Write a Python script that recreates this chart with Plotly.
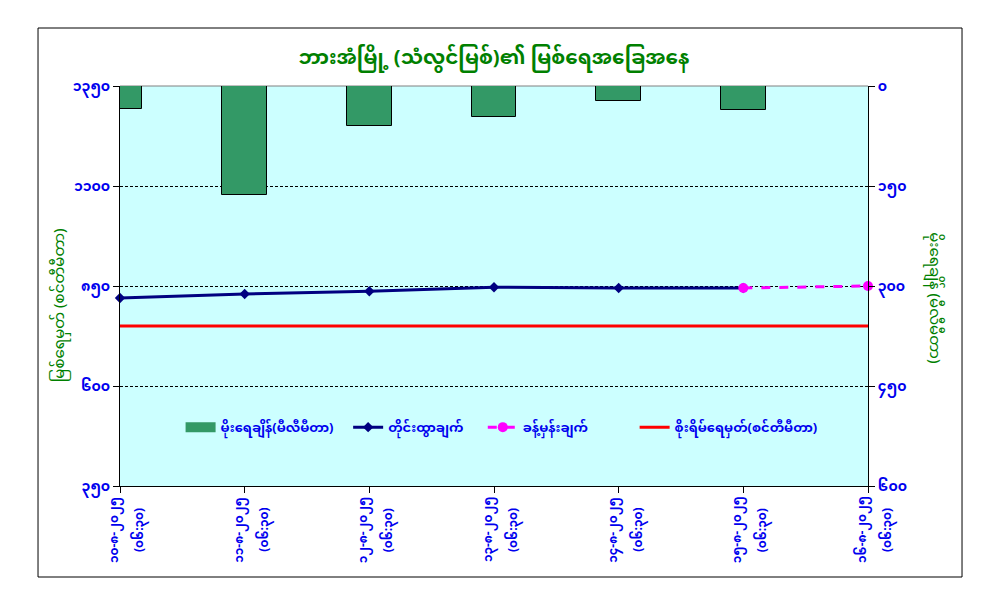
import plotly.graph_objects as go

# categories (date / time of reading)
dates = ["၁၀-၈-၂၀၂၅", "၁၁-၈-၂၀၂၅", "၁၂-၈-၂၀၂၅", "၁၃-၈-၂၀၂၅",
         "၁၄-၈-၂၀၂၅", "၁၅-၈-၂၀၂၅", "၁၆-၈-၂၀၂၅"]
times = ["(၀၆:၃၀)"] * 7

# rainfall (mm), right axis
rainfall = [34, 163, 60, 47, 22, 36, 0]
# measured water level (cm), left axis
water_level = [820, 830, 837, 847, 845, 845, None]
# forecast water level (cm)
forecast = [None, None, None, None, None, 845, 850]
# danger level (cm)
danger_level = [750] * 7

left_ticks = [350, 600, 850, 1100, 1350]
left_labels = ["၃၅၀", "၆၀၀", "၈၅၀", "၁၁၀၀", "၁၃၅၀"]
right_ticks = [0, 150, 300, 450, 600]
right_labels = ["၀", "၁၅၀", "၃၀၀", "၄၅၀", "၆၀၀"]

title_text = "ဘားအံမြို့ (သံလွင်မြစ်)၏ မြစ်ရေအခြေအနေ"
left_title = "မြစ်ရေမှတ် (စင်တီမီတာ)"
right_title = "မိုးရေချိန် (မီလီမီတာ)"
legend_names = ["မိုးရေချိန်(မီလီမီတာ)", "တိုင်းထွာချက်", "ခန့်မှန်းချက်",
                "စိုးရိမ်ရေမှတ်(စင်တီမီတာ)"]

FONT = "Noto Sans Myanmar, Padauk, Myanmar Text, DejaVu Sans, sans-serif"
BLUE = "#0000EE"
GREEN = "#008000"
BAR_GREEN = "#339966"

x = list(range(len(dates)))

fig = go.Figure()
fig.add_trace(go.Bar(
    x=x, y=rainfall, yaxis="y2", width=0.36,
    marker=dict(color=BAR_GREEN, line=dict(color="black", width=1)),
    name=legend_names[0], showlegend=False
))
# legend entry drawn as a wide green block, like the original
fig.add_trace(go.Scatter(
    x=[None], y=[None], mode="lines",
    line=dict(color=BAR_GREEN, width=10),
    name=legend_names[0], legend="legend"
))
fig.add_trace(go.Scatter(
    x=x, y=water_level, mode="lines+markers",
    line=dict(color="#000080", width=3),
    marker=dict(symbol="diamond", size=8, color="#000080"),
    name=legend_names[1], legend="legend2", cliponaxis=False
))
fig.add_trace(go.Scatter(
    x=x, y=danger_level, mode="lines",
    line=dict(color="#FF0000", width=3),
    name=legend_names[3], legend="legend4"
))
fig.add_trace(go.Scatter(
    x=x, y=forecast, mode="lines+markers",
    line=dict(color="#FF00FF", width=3, dash="dash"),
    marker=dict(symbol="circle", size=10, color="#FF00FF"),
    name=legend_names[2], legend="legend3", cliponaxis=False
))

leg = dict(orientation="h", y=0.147, yanchor="middle", xanchor="left",
           bgcolor="rgba(0,0,0,0)",
           font=dict(size=13, color=BLUE, weight="bold"))

annotations = [
    dict(text=left_title, xref="paper", yref="paper", x=-0.08, y=0.4525,
         textangle=-90, showarrow=False, xanchor="center", yanchor="middle",
         font=dict(size=15, color=GREEN)),
    dict(text=right_title, xref="paper", yref="paper", x=1.088, y=0.47,
         textangle=90, showarrow=False, xanchor="center", yanchor="middle",
         font=dict(size=15, color=GREEN)),
]
for i, (d, t) in enumerate(zip(dates, times)):
    annotations.append(dict(text=f"<b>{d}</b>", x=i, xref="x", yref="paper",
                            y=-0.11, textangle=-90, showarrow=False,
                            xanchor="center", yanchor="middle", xshift=-5,
                            font=dict(size=12, color=BLUE)))
    annotations.append(dict(text=f"<b>{t}</b>", x=i, xref="x", yref="paper",
                            y=-0.11, textangle=-90, showarrow=False,
                            xanchor="center", yanchor="middle", xshift=20,
                            font=dict(size=12, color=BLUE)))

fig.update_layout(
    width=1001, height=595,
    margin=dict(l=112, r=141, t=78, b=117),
    paper_bgcolor="white", plot_bgcolor="#CCFFFF",
    font=dict(family=FONT, color=BLUE, size=13),
    title=dict(text=f"<b>{title_text}</b>", x=0.5, xanchor="center",
               y=0.918, yanchor="middle", xref="paper",
               font=dict(size=20, color=GREEN)),
    showlegend=True,
    legend=dict(leg, x=0.081),
    legend2=dict(leg, x=0.305),
    legend3=dict(leg, x=0.485),
    legend4=dict(leg, x=0.688),
    bargap=0,
    xaxis=dict(
        range=[0, 6], tickmode="array", tickvals=x, showticklabels=False,
        ticks="outside", ticklen=6, tickcolor="black",
        showline=True, linecolor="black", linewidth=1,
        showgrid=False, zeroline=False,
    ),
    yaxis=dict(
        range=[350, 1350], tickmode="array", tickvals=left_ticks,
        ticktext=[f"<b>{t}</b>" for t in left_labels],
        ticks="outside", ticklen=6, tickcolor="black",
        showline=True, linecolor="black", linewidth=1,
        showgrid=True, gridcolor="black", gridwidth=1, griddash="3px,2px",
        zeroline=False, tickfont=dict(size=14, color=BLUE),
    ),
    yaxis2=dict(
        range=[600, 0], overlaying="y", side="right",
        tickmode="array", tickvals=right_ticks,
        ticktext=[f"<b>{t}</b>" for t in right_labels],
        ticks="outside", ticklen=6, tickcolor="black",
        showline=True, linecolor="black", linewidth=1,
        showgrid=False, zeroline=False, tickfont=dict(size=14, color=BLUE),
    ),
    shapes=[
        dict(type="rect", xref="paper", yref="paper",
             x0=-0.1096, x1=1.1257, y0=-0.2275, y1=1.145,
             line=dict(color="black", width=1), fillcolor="rgba(0,0,0,0)"),
        dict(type="line", xref="paper", yref="paper", x0=0, x1=1, y0=1, y1=1,
             line=dict(color="#808080", width=1), layer="below"),
    ],
    annotations=annotations,
)

fig.write_html("out.html")
